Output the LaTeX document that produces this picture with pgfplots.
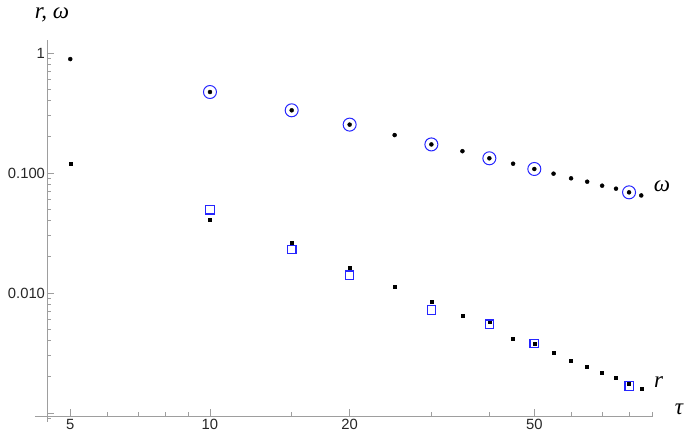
\documentclass[border=0pt]{standalone}
\usepackage{fontspec}
\setmainfont{Liberation Sans}
\newfontfamily\labfont{Liberation Serif}
\usepackage{pgfplots}
\pgfplotsset{compat=1.18}
\definecolor{mblue}{rgb}{0.15,0.15,1}
\definecolor{axgray}{gray}{0.62}
\begin{document}
\begin{tikzpicture}
\begin{axis}[
  at={(0,0)}, anchor=south west,
  scale only axis, width=606pt, height=376pt,
  xmode=log, ymode=log,
  xmin=4.455, xmax=90.1, ymin=0.000944, ymax=1.283,
  axis lines=left,
  axis line style={axgray, line width=0.8pt, -},
  every tick/.style={axgray, line width=0.8pt},
  tick align=inside,
  major tick length=7pt, minor tick length=4pt,
  xtick={5,10,20,50}, xticklabels={5,10,20,50},
  minor xtick={6,7,8,9,15,30,40,60,70,80,90},
  ytick={0.001,0.01,0.1,1}, yticklabels={,0.010,0.100,1},
  minor ytick={0.002,0.003,0.004,0.005,0.006,0.007,0.008,0.009,
               0.02,0.03,0.04,0.05,0.06,0.07,0.08,0.09,
               0.2,0.3,0.4,0.5,0.6,0.7,0.8,0.9},
  tick label style={font=\fontsize{14.8}{17}\selectfont, text=black!85},
  yticklabel style={xshift=1.5pt},
  clip=false,
]
% omega (dots)
\addplot[only marks, mark=*, mark size=2pt, black] coordinates {
 (5,0.89) (10,0.473) (15,0.333) (20,0.253) (25,0.207) (30,0.173) (35,0.152)
 (40,0.1326) (45,0.1195) (50,0.108) (55,0.0987) (60,0.0903) (65,0.0846)
 (70,0.0784) (75,0.074) (80,0.069) (85,0.065)};
% omega (circles)
\addplot[only marks, mark=o, mark size=6.5pt, color=mblue, mark options={line width=1pt}] coordinates {
 (10,0.473) (15,0.333) (20,0.253) (30,0.173) (40,0.1326) (50,0.108) (80,0.069)};
% r (dots)
\addplot[only marks, mark=square*, mark size=1.5pt, black] coordinates {
 (5,0.12) (10,0.0406) (15,0.0263) (20,0.0162) (25,0.0112) (30,0.0084) (35,0.00647)
 (40,0.00574) (45,0.00414) (50,0.0038) (55,0.00318) (60,0.00271) (65,0.00245)
 (70,0.00218) (75,0.00198) (80,0.00175) (85,0.00158)};
% r (squares)
\addplot[only marks, mark=square, mark size=4.2pt, color=mblue, mark options={line width=1.3pt}] coordinates {
 (10,0.0494) (15,0.0231) (20,0.0141) (30,0.00722) (40,0.00548) (50,0.0038) (80,0.00168)};
\end{axis}
\draw[axgray, line width=0.8pt] (-12pt,0) -- (0,0) (0,0) -- (0,-6pt) (0,-2pt) -- (4pt,-2pt);
\node[font=\labfont\itshape\fontsize{23}{25}\selectfont, inner sep=0] at (5pt,401pt) {r, ω};
\node[font=\labfont\itshape\fontsize{23}{25}\selectfont, inner sep=0] at (632pt,7pt) {τ};
\node[font=\labfont\itshape\fontsize{23}{25}\selectfont, inner sep=0] at (615pt,230pt) {ω};
\node[font=\labfont\itshape\fontsize{23}{25}\selectfont, inner sep=0] at (611.5pt,34pt) {r};
\pgfresetboundingbox
\path[use as bounding box] (-47pt,-30pt) rectangle (645pt,416pt);
\end{tikzpicture}
\end{document}
